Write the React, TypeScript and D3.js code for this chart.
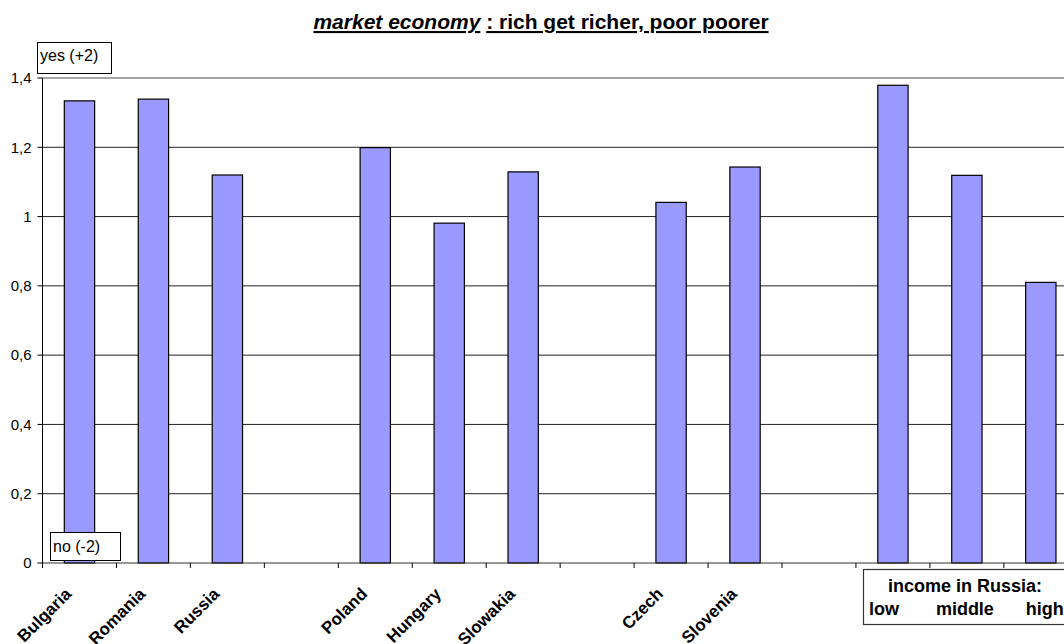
import React from "react";
import * as d3 from "d3";

const categories = ["Bulgaria", "Romania", "Russia", "", "Poland", "Hungary", "Slowakia", "", "Czech", "Slovenia", "", "low", "middle", "high"];
const values: (number | null)[] = [1.334, 1.339, 1.12, null, 1.199, 0.981, 1.129, null, 1.041, 1.143, null, 1.379, 1.119, 0.81];
const rotatedLabelCount = 10;
const yTicks = [0, 0.2, 0.4, 0.6, 0.8, 1, 1.2, 1.4];
const incomeLabels = ["low", "middle", "high"];

const W = 1064;
const H = 644;
const left = 42.5;
const step = 73.95;
const top = 78;
const bottom = 563;
const font = "Arial, 'Liberation Sans', sans-serif";

export default function App() {
  const keys = categories.map((_, i) => String(i));
  const x = d3.scaleBand<string>().domain(keys).range([left, left + step * categories.length]).padding(0);
  const y = d3.scaleLinear().domain([0, 1.4]).range([bottom, top]);
  const bw = x.bandwidth() * 0.41;
  const fmt = (v: number) => d3.format("~g")(v).replace(".", ",");
  const xRight = left + step * categories.length;

  const center = (i: number) => x(keys[i])! + x.bandwidth() / 2;
  const incomeOffsets = [-24, -31, -15];

  return (
    <svg width={W} height={H} style={{ position: "fixed", left: 0, top: 0, background: "#fff" }} fontFamily={font}>
      <rect x={0} y={0} width={W} height={H} fill="#fff" />
      {/* title */}
      <text x={541} y={29} textAnchor="middle" fontSize={21} fontWeight="bold" fill="#000">
        <tspan fontStyle="italic" textDecoration="underline">market economy</tspan>
        <tspan> </tspan>
        <tspan textDecoration="underline">: rich get richer, poor poorer</tspan>
      </text>
      {/* gridlines */}
      {yTicks.filter((t) => t > 0).map((t) => (
        <line key={t} x1={left} x2={xRight} y1={y(t)} y2={y(t)} stroke={t === 1.4 ? "#888" : "#222"} strokeWidth={t === 1.4 ? 1.5 : 1} />
      ))}
      {/* y axis */}
      <line x1={left} x2={left} y1={top} y2={bottom} stroke="#000" strokeWidth={1} />
      {yTicks.map((t) => (
        <g key={t}>
          <line x1={left - 5} x2={left} y1={y(t)} y2={y(t)} stroke="#000" />
          <text x={left - 11} y={y(t)} dy="0.35em" textAnchor="end" fontSize={15} fill="#000">{fmt(t)}</text>
        </g>
      ))}
      {/* bars */}
      {values.map((v, i) =>
        v == null ? null : (
          <rect key={i} x={x(keys[i])! + (x.bandwidth() - bw) / 2} y={y(v)} width={bw} height={y(0) - y(v)} fill="#9999ff" stroke="#000" strokeWidth={1.2} />
        )
      )}
      {/* x axis */}
      <line x1={left} x2={xRight} y1={bottom} y2={bottom} stroke="#333" strokeWidth={1.2} />
      {keys.map((k) => (
        <line key={k} x1={x(k)!} x2={x(k)!} y1={bottom} y2={bottom + 5} stroke="#000" />
      ))}
      {categories.slice(0, rotatedLabelCount).map((c, i) =>
        c ? (
          <text key={i} transform={`translate(${center(i) - 7},${bottom + 32}) rotate(-45)`} textAnchor="end" fontSize={17} fontWeight="bold" fill="#000">{c}</text>
        ) : null
      )}
      {/* yes / no boxes */}
      <rect x={37.5} y={42.5} width={74} height={31} fill="#fff" stroke="#000" />
      <text x={40} y={61} fontSize={16} fill="#000">yes (+2)</text>
      <rect x={50.5} y={532.5} width={70} height={28} fill="#fff" stroke="#000" />
      <text x={53} y={552} fontSize={16} fill="#000">no (-2)</text>
      {/* income box */}
      <rect x={863.5} y={569.5} width={240} height={55} fill="#fff" stroke="#333" strokeWidth={1.2} />
      <text x={965} y={592} textAnchor="middle" fontSize={18} fontWeight="bold" fill="#000">income in Russia:</text>
      {incomeLabels.map((l, j) => (
        <text key={l} x={center(11 + j) + incomeOffsets[j]} y={615} fontSize={18} fontWeight="bold" fill="#000">{l}</text>
      ))}
    </svg>
  );
}
